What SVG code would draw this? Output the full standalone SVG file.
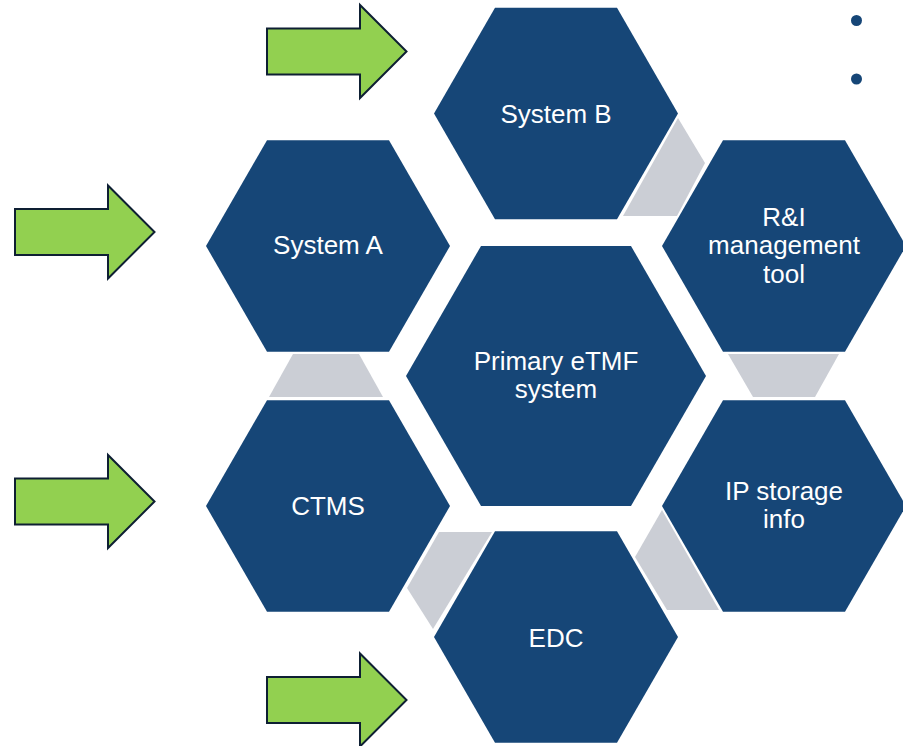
<svg xmlns="http://www.w3.org/2000/svg" xmlns:xlink="http://www.w3.org/1999/xlink" width="903" height="746" viewBox="0 0 903 746">
  <style>
    .hex { fill: #164677; }
    .link { fill: #cbced5; }
    .lbl { fill: #ffffff; font-family: "Liberation Sans", Arial, sans-serif; font-size: 26px; text-anchor: middle; }
    .arrow { fill: #92d050; stroke: #0e1f33; stroke-width: 2; stroke-linejoin: miter; }
    .dot { fill: #164677; }
  </style>
  <defs>
    <polygon id="hexS" points="-122,0 -61,-105.7 61,-105.7 122,0 61,105.7 -61,105.7"/>
    <polygon id="hexL" points="-150,0 -75,-130 75,-130 150,0 75,130 -75,130"/>
    <path id="arrowShape" d="M0,-23 H93 V-46.5 L139.5,0 L93,46.5 V23 H0 Z"/>
  </defs>
  <rect width="903" height="746" fill="#ffffff"/>

  <g id="connectors">
    <polygon class="link" points="293,354 359,354 383,397 269,397"/>
    <polygon class="link" points="728,354 839,354 815,397 753,397"/>
    <polygon class="link" points="678,118 705,163 677,216 623,216"/>
    <polygon class="link" points="439,532 492,532 433,629 407,588"/>
    <polygon class="link" points="662,510 719,610 667,610 635,557"/>
  </g>

  <g id="arrows">
    <use xlink:href="#arrowShape" class="arrow" transform="translate(267,51.5)"/>
    <use xlink:href="#arrowShape" class="arrow" transform="translate(15,232)"/>
    <use xlink:href="#arrowShape" class="arrow" transform="translate(15,501.5)"/>
    <use xlink:href="#arrowShape" class="arrow" transform="translate(267,700)"/>
  </g>

  <g id="node-systemB">
    <use xlink:href="#hexS" class="hex" transform="translate(556,113.5)"/>
    <text class="lbl" x="556" y="123">System B</text>
  </g>
  <g id="node-systemA">
    <use xlink:href="#hexS" class="hex" transform="translate(328,246)"/>
    <text class="lbl" x="328" y="254">System A</text>
  </g>
  <g id="node-ri">
    <use xlink:href="#hexS" class="hex" transform="translate(784,246)"/>
    <text class="lbl" x="784" y="226">R&amp;I</text>
    <text class="lbl" x="784" y="254">management</text>
    <text class="lbl" x="784" y="283">tool</text>
  </g>
  <g id="node-primary">
    <use xlink:href="#hexL" class="hex" transform="translate(556,376)"/>
    <text class="lbl" x="556" y="370">Primary eTMF</text>
    <text class="lbl" x="556" y="398">system</text>
  </g>
  <g id="node-ctms">
    <use xlink:href="#hexS" class="hex" transform="translate(328,506)"/>
    <text class="lbl" x="328" y="515">CTMS</text>
  </g>
  <g id="node-ip">
    <use xlink:href="#hexS" class="hex" transform="translate(784,506)"/>
    <text class="lbl" x="784" y="500">IP storage</text>
    <text class="lbl" x="784" y="528">info</text>
  </g>
  <g id="node-edc">
    <use xlink:href="#hexS" class="hex" transform="translate(556,637)"/>
    <text class="lbl" x="556" y="647">EDC</text>
  </g>

  <g id="bullets">
    <circle class="dot" cx="856.5" cy="20.5" r="5.5"/>
    <circle class="dot" cx="856.5" cy="79" r="5.5"/>
  </g>
</svg>
